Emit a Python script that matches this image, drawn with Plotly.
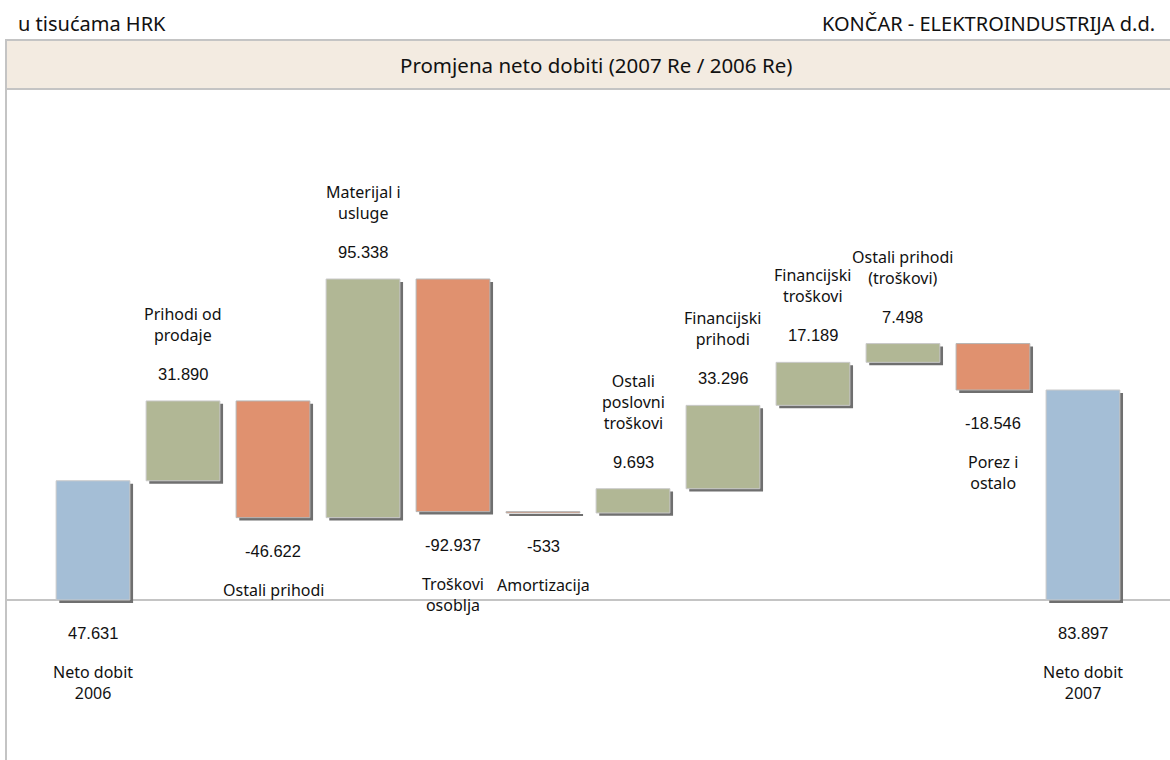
import plotly.graph_objects as go

# podaci u tisućama HRK
categories = [
    "Neto dobit 2006", "Prihodi od prodaje", "Ostali prihodi", "Materijal i usluge",
    "Troškovi osoblja", "Amortizacija", "Ostali poslovni troškovi", "Financijski prihodi",
    "Financijski troškovi", "Ostali prihodi (troškovi)", "Porez i ostalo", "Neto dobit 2007",
]
labels = [
    "Neto dobit<br>2006", "Prihodi od<br>prodaje", "Ostali prihodi", "Materijal i<br>usluge",
    "Troškovi<br>osoblja", "Amortizacija", "Ostali<br>poslovni<br>troškovi", "Financijski<br>prihodi",
    "Financijski<br>troškovi", "Ostali prihodi<br>(troškovi)", "Porez i<br>ostalo", "Neto dobit<br>2007",
]
values = [47631, 31890, -46622, 95338, -92937, -533, 9693, 33296, 17189, 7498, -18546, 83897]
measures = ["absolute"] + ["relative"] * 10 + ["total"]

W, H = 1170, 760
PLOT_TOP = 89
GREEN, ORANGE, BLUE = "#B1B795", "#E0916F", "#A4BED6"
GRID = "#C4C4C4"
NAME_FONT = dict(family="Noto Sans", size=16, color="#111111")
VALUE_FONT = dict(family="Liberation Sans", size=16.5, color="#111111")
HEAD_FONT = dict(family="Noto Sans", size=20, color="#111111")


def fmt(v):
    return f"{v:,}".replace(",", ".")


fig = go.Figure()

# sjena ispod stupaca
fig.add_trace(go.Waterfall(
    x=categories, y=values, measure=measures, base=-1150,
    width=0.82, offset=-0.41 + 0.035,
    increasing=dict(marker=dict(color="#6F6F6F")),
    decreasing=dict(marker=dict(color="#6F6F6F")),
    totals=dict(marker=dict(color="#6F6F6F")),
    connector=dict(visible=False), hoverinfo="skip", showlegend=False,
))
fig.add_trace(go.Waterfall(
    x=categories, y=values, measure=measures,
    width=0.82, offset=-0.41,
    increasing=dict(marker=dict(color=GREEN, line=dict(color="#C9C9C9", width=1))),
    decreasing=dict(marker=dict(color=ORANGE, line=dict(color="#B5B5B5", width=1))),
    totals=dict(marker=dict(color=BLUE, line=dict(color="#C9C9C9", width=1))),
    connector=dict(visible=False), showlegend=False,
))

# natpisi iznad / ispod stupaca
running = 0
for cat, lab, val, m in zip(categories, labels, values, measures):
    if m == "relative":
        running += val
        above = val > 0
        edge = running
    else:
        running = val
        above = False
        edge = 0
    fig.add_annotation(x=cat, y=edge, text=fmt(val), showarrow=False,
                       font=VALUE_FONT, yanchor="middle", yshift=27 if above else -33)
    fig.add_annotation(x=cat, y=edge, text=lab, showarrow=False, font=NAME_FONT,
                       yanchor="bottom" if above else "top", yshift=53 if above else -59)

# okvir i zaglavlje
fig.add_shape(type="rect", xref="paper", yref="paper",
              x0=6 / W, x1=1.01, y0=1 - PLOT_TOP / H, y1=1 - 40 / H,
              fillcolor="#F3EBE1", line=dict(color=GRID, width=2), layer="below")
fig.add_shape(type="line", xref="paper", yref="paper",
              x0=6 / W, x1=6 / W, y0=0, y1=1 - 40 / H, line=dict(color=GRID, width=2))
fig.add_annotation(xref="paper", yref="paper", x=596 / W, y=1 - 65 / H,
                   xanchor="center", yanchor="middle",
                   text="Promjena neto dobiti (2007 Re / 2006 Re)", showarrow=False,
                   font=dict(HEAD_FONT, size=20.5))
fig.add_annotation(xref="paper", yref="paper", x=16 / W, y=1 - 24 / H,
                   xanchor="left", yanchor="middle",
                   text="u tisućama HRK", showarrow=False, font=HEAD_FONT)
fig.add_annotation(xref="paper", yref="paper", x=1157 / W, y=1 - 24 / H,
                   xanchor="right", yanchor="middle",
                   text="KONČAR - ELEKTROINDUSTRIJA d.d.", showarrow=False, font=HEAD_FONT)

px_per_unit = 210 / 83897
fig.update_layout(
    width=W, height=H,
    margin=dict(l=0, r=0, t=0, b=0, pad=0),
    paper_bgcolor="white", plot_bgcolor="white",
    waterfallmode="overlay",
    xaxis=dict(domain=[6 / W, 1], range=[-0.967, 11.967], showticklabels=False,
               showgrid=False, zeroline=False, showline=False, ticks=""),
    yaxis=dict(domain=[0, 1 - PLOT_TOP / H],
               range=[-(H - 600) / px_per_unit, (600 - PLOT_TOP) / px_per_unit],
               showticklabels=False, showgrid=False, zeroline=True,
               zerolinecolor=GRID, zerolinewidth=2, showline=False, ticks=""),
)

fig.write_html("out.html", config={"displayModeBar": False},
               post_script="document.body.style.margin = '0px';")
